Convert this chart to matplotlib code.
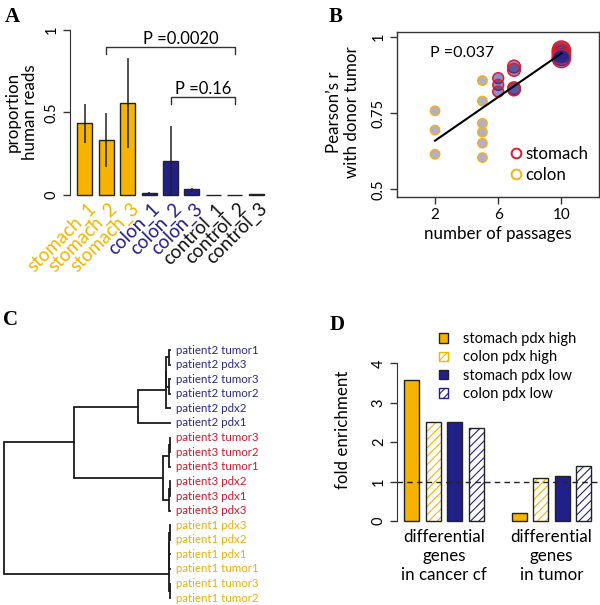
import numpy as np
import matplotlib.pyplot as plt
from matplotlib.patches import Patch
from matplotlib.lines import Line2D

plt.rcParams['font.family'] = ['Lato', 'DejaVu Sans']
plt.rcParams['hatch.linewidth'] = 0.8

# ---- data ----
# A: proportion of human reads
samples = ['stomach_1', 'stomach_2', 'stomach_3', 'colon_1', 'colon_2', 'colon_3',
           'control_1', 'control_2', 'control_3']
sample_group = ['stomach'] * 3 + ['colon'] * 3 + ['control'] * 3
prop_human = [0.438, 0.333, 0.556, 0.01, 0.208, 0.034, 0.0, 0.0, 0.005]
prop_low = [0.317, 0.172, 0.283, 0.005, 0.0, 0.02, 0.0, 0.0, 0.005]
prop_high = [0.55, 0.495, 0.828, 0.02, 0.418, 0.045, 0.0, 0.0, 0.005]
comparisons = [(1, 7, 'P =0.0020'), (4, 7, 'P =0.16')]

# B: correlation with donor tumor vs passages
colon_passages = [2, 2, 2, 5, 5, 5, 5, 5, 5]
colon_r = [0.757, 0.694, 0.615, 0.856, 0.789, 0.716, 0.687, 0.651, 0.604]
stomach_passages = [6, 6, 6, 7, 7, 7, 7, 10, 10, 10, 10, 10]
stomach_r = [0.864, 0.842, 0.820, 0.902, 0.891, 0.831, 0.827,
             0.956, 0.950, 0.944, 0.935, 0.928]
p_passages = 'P =0.037'

# C: clustering of samples
leaf_labels = ['patient2 tumor1', 'patient2 pdx3', 'patient2 tumor3', 'patient2 tumor2',
               'patient2 pdx2', 'patient2 pdx1',
               'patient3 tumor3', 'patient3 tumor2', 'patient3 tumor1',
               'patient3 pdx2', 'patient3 pdx1', 'patient3 pdx3',
               'patient1 pdx3', 'patient1 pdx2', 'patient1 pdx1',
               'patient1 tumor1', 'patient1 tumor3', 'patient1 tumor2']
leaf_patient = [2] * 6 + [3] * 6 + [1] * 6
# (height, left, right); ints are leaves
p2_tree = (0.193, (0.027, (0.025, (0.005, 0, 1), (0.005, 2, 3)), 4), 5)
p3_tree = (0.040, (0.006, (0.003, 6, 7), 8), (0.006, (0.003, 9, 10), 11))
p1_tree = (0.006, (0.005, (0.004, (0.003, 12, 13), 14), 15), (0.003, 16, 17))
tree = (1.0, (0.578, p2_tree, p3_tree), p1_tree)

# D: fold enrichment
gene_sets = ['differential\ngenes\nin cancer cf', 'differential\ngenes\nin tumor']
series_names = ['stomach pdx high', 'colon pdx high', 'stomach pdx low', 'colon pdx low']
stomach_high = [3.58, 0.21]
colon_high = [2.52, 1.08]
stomach_low = [2.52, 1.15]
colon_low = [2.35, 1.395]

# ---- style ----
ORANGE = '#F6B400'
NAVY = '#202088'
RED = '#D51F30'
group_col = {'stomach': ORANGE, 'colon': NAVY, 'control': '#111111'}
patient_col = {1: '#EFAE0C', 2: '#2A2A8A', 3: '#D01A2A'}
FS = 12.2      # axis labels / annotations
TICK_FS = 10.5

W, H = 600, 605
fig = plt.figure(figsize=(6.0, 6.05), dpi=100)


def px_axes(left, top, right, bottom):
    return fig.add_axes([left / W, 1 - bottom / H, (right - left) / W, (bottom - top) / H])


def fxy(x, y):
    return x / W, 1 - y / H


def panel_letter(x, y, s):
    fig.text(*fxy(x, y), s, family='Liberation Serif', weight='bold', fontsize=15,
             ha='left', va='top')


# ---- A ----
axA = px_axes(70, 23.4, 270, 201.6)
xa = np.arange(len(samples))
cols = [group_col[g] for g in sample_group]
axA.bar(xa, prop_human, width=0.7, color=cols, edgecolor='#222222', linewidth=1)
axA.vlines(xa, prop_low, prop_high, color='#222222', linewidth=1.1)
axA.set_xlim(-0.7, 8.645)
axA.set_ylim(-0.04, 1.04)
for s in ['top', 'right', 'bottom']:
    axA.spines[s].set_visible(False)
axA.spines['left'].set_bounds(0, 1)
axA.spines['left'].set_color('#333333')
axA.set_xticks([])
axA.set_yticks([0, 0.5, 1])
axA.set_yticklabels(['0', '0.5', '1'], rotation=90, va='center', fontsize=TICK_FS)
axA.tick_params(axis='y', length=5, width=1, pad=3, color='#333333')
for i, name in enumerate(samples):
    axA.text(xa[i] + 0.1, -0.03, name, rotation=45, rotation_mode='anchor',
             ha='right', va='top', color=group_col[sample_group[i]], fontsize=13.5,
             clip_on=False)
p_text_x = [4.5, 5.5]
bracket_y = [0.897, 0.594]
for k, (a, b, lab) in enumerate(comparisons):
    yb = bracket_y[k]
    axA.plot([a, a, b, b], [yb - 0.045, yb, yb, yb - 0.045], color='#333333',
             linewidth=1, clip_on=False)
    axA.text(p_text_x[k], yb + 0.047, lab, ha='center', va='center', fontsize=11.9)
fig.text(*fxy(21, 112), 'proportion\nhuman reads', rotation=90, ha='center',
         va='center', multialignment='center', fontsize=FS, linespacing=1.1)
panel_letter(5, 7, 'A')

# ---- B ----
axB = px_axes(397, 31.7, 598.5, 196.7)
colon_size = np.full(len(colon_r), 6.7) ** 2
stomach_size = (1.3 * np.array(stomach_passages)) ** 2
axB.scatter(colon_passages, colon_r, s=colon_size, facecolor='#B3AFCB',
            edgecolor='#F0B020', linewidth=1.1, zorder=3)
axB.scatter(stomach_passages, stomach_r, s=stomach_size, facecolor=(0.13, 0.13, 0.55, 0.5),
            edgecolor=RED, linewidth=1.1, zorder=3)
all_x = np.array(colon_passages + stomach_passages, dtype=float)
all_y = np.array(colon_r + stomach_r)
slope, icpt = np.polyfit(all_x, all_y, 1)
xl = np.array([all_x.min(), all_x.max()])
axB.plot(xl, icpt + slope * xl, color='black', linewidth=1.5, zorder=4)
axB.text(1.7, 0.947, p_passages, ha='left', va='center', fontsize=11.5)
axB.set_xlim(-0.41, 12.35)
axB.set_ylim(0.476, 1.016)
axB.set_xticks([2, 6, 10])
axB.set_yticks([0.5, 0.75, 1])
axB.set_yticklabels(['0.5', '0.75', '1'], rotation=90, va='center', fontsize=TICK_FS)
axB.set_xticklabels(['2', '6', '10'], fontsize=TICK_FS + 0.5)
axB.tick_params(length=5, width=1, pad=3, color='#333333')
for s in axB.spines.values():
    s.set_linewidth(1)
    s.set_color('#333333')
axB.set_xlabel('number of passages', fontsize=FS, labelpad=3)
fig.text(*fxy(343, 112), 'Pearson\u2019s r\nwith donor tumor', rotation=90, ha='center',
         va='center', multialignment='center', fontsize=FS, linespacing=1.1)
leg_handles = [Line2D([], [], marker='o', linestyle='none', markerfacecolor='none',
                      markeredgecolor=RED, markersize=7, markeredgewidth=1.4),
               Line2D([], [], marker='o', linestyle='none', markerfacecolor='none',
                      markeredgecolor='#F0B020', markersize=7, markeredgewidth=1.4)]
axB.legend(leg_handles, ['stomach', 'colon'], loc='upper left',
           bbox_to_anchor=fxy(509, 146), bbox_transform=fig.transFigure,
           frameon=False, fontsize=FS, handlelength=0.8, handletextpad=0.15,
           labelspacing=0.3, borderpad=0, borderaxespad=0)
panel_letter(329, 7, 'B')

# ---- C ----
axC = px_axes(4, 342.7, 170, 605.5)
axC.set_xlim(1.0, 0.0)
axC.set_ylim(len(leaf_labels) - 0.5, -0.5)
axC.axis('off')


def draw_node(node):
    # returns (y, height) of the node, drawing its branches
    if isinstance(node, int):
        return float(node), 0.0
    h, left, right = node
    yl, hl = draw_node(left)
    yr, hr = draw_node(right)
    axC.plot([hl, h, h, hr], [yl, yl, yr, yr], color='#1a1a1a', linewidth=1.3,
             solid_joinstyle='miter', clip_on=False)
    return (yl + yr) / 2, h


draw_node(tree)
for i, lab in enumerate(leaf_labels):
    axC.text(-0.036, i, lab, ha='left', va='center', fontsize=8.3,
             color=patient_col[leaf_patient[i]], clip_on=False)
panel_letter(3, 310, 'C')

# ---- D ----
axD = px_axes(397, 357, 600, 527.3)
series_vals = [stomach_high, colon_high, stomach_low, colon_low]
series_face = [ORANGE, 'white', NAVY, 'white']
series_hatch = [None, '////', None, '////']
series_hcol = [ORANGE, ORANGE, NAVY, NAVY]
for j, vals in enumerate(series_vals):
    xs = np.arange(len(gene_sets)) * 5 + j
    if series_hatch[j]:
        axD.bar(xs, vals, width=0.7, color='white', edgecolor=series_hcol[j],
                hatch=series_hatch[j], linewidth=0)
        axD.bar(xs, vals, width=0.7, fill=False, edgecolor='#222222', linewidth=1)
    else:
        axD.bar(xs, vals, width=0.7, color=series_face[j], edgecolor='#222222',
                linewidth=1)
axD.axhline(1, color='#222222', linewidth=1, linestyle=(0, (4, 3)))
axD.set_xlim(-0.68, 8.76)
axD.set_ylim(-0.16, 4.16)
for s in ['top', 'right', 'bottom']:
    axD.spines[s].set_visible(False)
axD.spines['left'].set_bounds(0, 4)
axD.spines['left'].set_color('#333333')
axD.set_yticks([0, 1, 2, 3, 4])
axD.set_yticklabels(['0', '1', '2', '3', '4'], rotation=90, va='center', fontsize=TICK_FS)
axD.tick_params(axis='y', length=5, width=1, pad=3, color='#333333')
axD.set_xticks([1.5, 6.5])
axD.set_xticklabels(gene_sets, fontsize=FS, linespacing=1.25)
axD.tick_params(axis='x', length=0, pad=1)
fig.text(*fxy(343, 430), 'fold enrichment', rotation=90, ha='center', va='center',
         fontsize=FS)
leg_patches = [Patch(facecolor=series_face[j], edgecolor='#222222',
                     hatch=series_hatch[j]) for j in range(4)]
leg = fig.legend(leg_patches, series_names, loc='upper left',
                 bbox_to_anchor=fxy(439, 332), frameon=False, fontsize=10.5,
                 handlelength=0.62, handleheight=0.62, handletextpad=1.05,
                 labelspacing=0.3, borderpad=0, borderaxespad=0)
for hp, c in zip(leg.get_patches(), series_hcol):
    if hp.get_hatch():
        hp.set_edgecolor(c)
panel_letter(330, 315, 'D')

fig.savefig('out.png', dpi=100)
